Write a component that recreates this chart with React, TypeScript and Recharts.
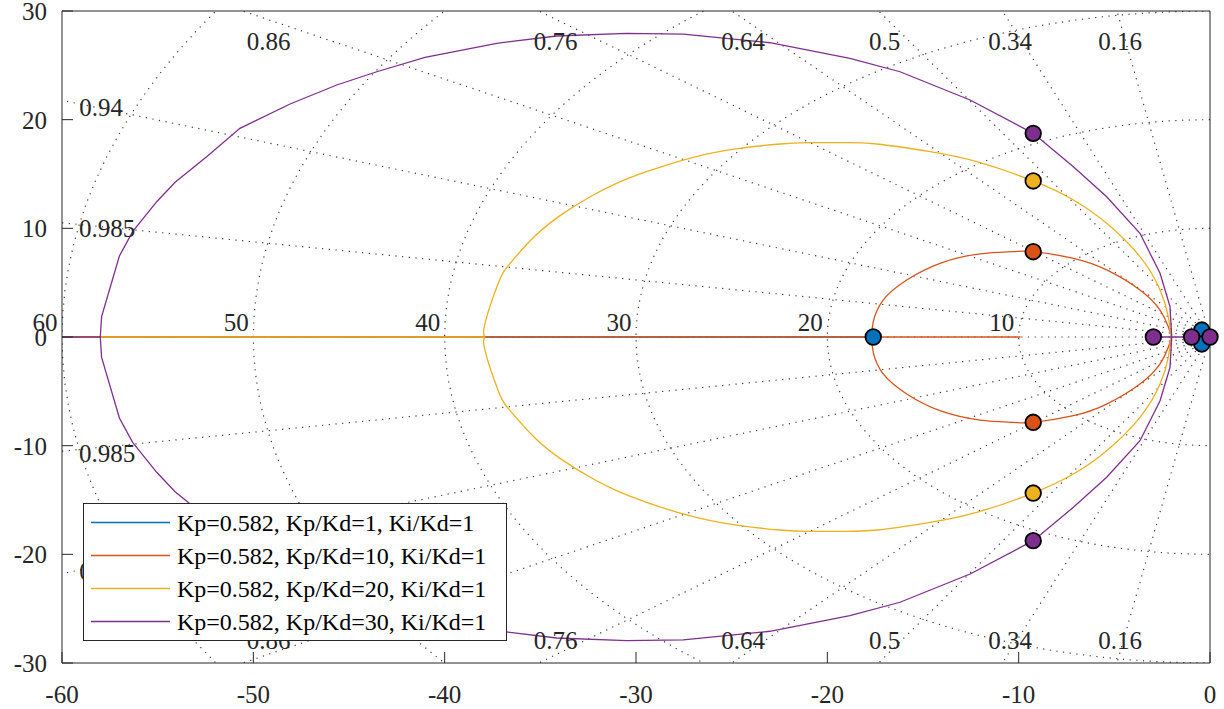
import React from 'react';
import { ComposedChart, Line, Scatter, XAxis, YAxis, ReferenceDot, Legend } from 'recharts';

type Pt = { x: number; y: number };

const xTicks = [-60, -50, -40, -30, -20, -10, 0];
const yTicks = [-30, -20, -10, 0, 10, 20, 30];

const seriesNames = [
  'Kp=0.582, Kp/Kd=1, Ki/Kd=1',
  'Kp=0.582, Kp/Kd=10, Ki/Kd=1',
  'Kp=0.582, Kp/Kd=20, Ki/Kd=1',
  'Kp=0.582, Kp/Kd=30, Ki/Kd=1',
];
const seriesColors = ['#0072BD', '#D95319', '#EDB120', '#7E2F8E'];

const orangeUpper: [number, number][] = [
  [-17.68, 0], [-17.6, 1.41], [-17.08, 3.4], [-15.85, 5.24], [-14.11, 6.78], [-12.02, 7.64],
  [-10.28, 7.85], [-9.24, 7.85], [-7.14, 7.24], [-5.4, 6.17], [-3.66, 4.33], [-2.61, 2.48],
  [-2.18, 0.95], [-2.0, 0],
];
const yellowUpper: [number, number][] = [
  [-37.89, 0], [-37.89, 1.26], [-37.2, 4.94], [-36.58, 6.78], [-35.28, 9.29], [-33.8, 11.38],
  [-32.32, 12.98], [-31.02, 14.14], [-29.45, 15.21], [-27.01, 16.54], [-24.57, 17.36],
  [-22.47, 17.76], [-21.08, 17.88], [-19.34, 17.88], [-17.42, 17.76], [-14.63, 17.05],
  [-12.19, 16.13], [-9.24, 14.36], [-7.14, 12.61], [-5.4, 10.46], [-3.66, 7.39], [-2.61, 4.33],
  [-2.18, 1.87], [-2.05, 0],
];
const purpleUpper: [number, number][] = [
  [-58.0, 0], [-57.93, 1.87], [-57.0, 7.45], [-56.31, 9.69], [-55.05, 12.45], [-54.09, 14.24],
  [-52.44, 16.59], [-50.7, 19.2], [-48.08, 21.44], [-45.64, 23.19], [-43.55, 24.41],
  [-41.03, 25.74], [-37.28, 27.03], [-34.15, 27.7], [-30.49, 27.95], [-27.53, 27.88],
  [-23.0, 27.08], [-18.82, 25.65], [-16.2, 24.41], [-12.54, 21.81], [-9.24, 18.74],
  [-7.14, 15.67], [-5.4, 12.91], [-3.66, 9.54], [-2.61, 5.86], [-2.09, 2.79], [-2.0, 0],
];

// real-axis parts of the locus
const blueReal: [number, number][] = [[-60, 0], [-17.6, 0]];
const orangeReal: [number, number][] = [[-60, 0], [-9.9, 0]];
const yellowReal: [number, number][] = [[-60, 0], [-37.89, 0]];
const purpleRealLeft: [number, number][] = [[-60, 0], [-58.0, 0]];
const purpleRealRight: [number, number][] = [[-2.96, 0], [-0.96, 0]];

// closed-loop poles at Kp=0.582
const blueMarks: [number, number][] = [[-17.6, 0], [-0.43, 0.64], [-0.43, -0.64]];
const orangeMarks: [number, number][] = [[-9.24, 7.85], [-9.24, -7.85]];
const yellowMarks: [number, number][] = [[-9.24, 14.36], [-9.24, -14.36]];
const purpleMarks: [number, number][] = [[-9.24, 18.74], [-9.24, -18.74], [-2.96, 0], [-0.96, 0], [0, 0]];

// s-plane grid
const zetas = [0.16, 0.34, 0.5, 0.64, 0.76, 0.86, 0.94, 0.985, 1];
const wns = [10, 20, 30, 40, 50, 60];

const dampingLabels = [
  { t: '0.86', x: -49.2, y: 27.24 }, { t: '0.76', x: -34.2, y: 27.24 }, { t: '0.64', x: -24.4, y: 27.24 },
  { t: '0.5', x: -17.0, y: 27.24 }, { t: '0.34', x: -10.45, y: 27.24 }, { t: '0.16', x: -4.7, y: 27.24 },
  { t: '0.86', x: -49.2, y: -27.88 }, { t: '0.76', x: -34.2, y: -27.88 }, { t: '0.64', x: -24.4, y: -27.88 },
  { t: '0.5', x: -17.0, y: -27.88 }, { t: '0.34', x: -10.45, y: -27.88 }, { t: '0.16', x: -4.7, y: -27.88 },
  { t: '0.94', x: -57.96, y: 21.12 }, { t: '0.985', x: -57.64, y: 10.0 },
  { t: '0.985', x: -57.64, y: -10.67 }, { t: '0.94', x: -57.96, y: -21.6 },
];

const pts = (a: [number, number][]): Pt[] => a.map(([x, y]) => ({ x, y }));
const mirror = (a: [number, number][]): Pt[] => a.map(([x, y]) => ({ x, y: -y }));

const rays: Pt[][] = [];
zetas.forEach((z) => {
  const s = Math.sqrt(1 - z * z);
  rays.push([{ x: 0, y: 0 }, { x: -100 * z, y: 100 * s }]);
  if (z < 1) rays.push([{ x: 0, y: 0 }, { x: -100 * z, y: -100 * s }]);
});
const circles: Pt[][] = wns.map((w) => {
  const c: Pt[] = [];
  for (let a = 90; a <= 270; a += 2) {
    const r = (a * Math.PI) / 180;
    c.push({ x: w * Math.cos(r), y: w * Math.sin(r) });
  }
  return c;
});

const FONT = 'Liberation Serif';
const AX = '#262626';
const gridStyle = { stroke: '#3a3a3a', strokeWidth: 1.2, strokeDasharray: '1.2 5.5' };

const marker = (color: string) => (p: any) => (
  <circle cx={p.cx} cy={p.cy} r={7.8} fill={color} stroke="#000" strokeWidth={1.8} />
);

const LegendBox = () => (
  <div
    style={{
      boxSizing: 'border-box', width: 424, height: 138, border: `1px solid ${AX}`,
      background: '#fff', paddingTop: 2,
    }}
  >
    {seriesNames.map((n, i) => (
      <div key={n} style={{ display: 'flex', alignItems: 'center', height: 33 }}>
        <svg width={86} height={33} style={{ flex: 'none' }}>
          <line x1={7} x2={86} y1={16.5} y2={16.5} stroke={seriesColors[i]} strokeWidth={1.3} />
        </svg>
        <span
          style={{
            marginLeft: 7, fontFamily: FONT, fontSize: 24, lineHeight: '33px', paddingTop: 2,
            color: '#000', whiteSpace: 'nowrap',
          }}
        >
          {n}
        </span>
      </div>
    ))}
  </div>
);

export default function App() {
  const tickStyle = { fontSize: 25, fill: AX, style: { fontFamily: FONT } };
  const line = (data: Pt[], color: string, key: string, w = 1.3, extra: any = {}) => (
    <Line
      key={key}
      data={data}
      dataKey="y"
      type="linear"
      stroke={color}
      strokeWidth={w}
      dot={false}
      activeDot={false}
      legendType="none"
      isAnimationActive={false}
      {...extra}
    />
  );
  const labelText = (cx: number, cy: number, t: string | number, anchor: 'middle' | 'end') => (
    <text x={cx} y={cy} dy="0.35em" textAnchor={anchor} fontSize={25} fill={AX} style={{ fontFamily: FONT }}>
      {t}
    </text>
  );

  return (
    <div style={{ position: 'absolute', left: 0, top: 0, background: '#fff', fontFamily: FONT }}>
      <ComposedChart width={1224} height={709} margin={{ top: 10, right: 13, bottom: 0, left: 0 }} style={{ fontFamily: FONT }}>
        <XAxis
          dataKey="x"
          type="number"
          domain={[-60, 0]}
          ticks={xTicks}
          interval={0}
          allowDataOverflow
          height={46}
          tickSize={-11}
          tickMargin={33}
          stroke={AX}
          tick={tickStyle}
        />
        <YAxis
          dataKey="y"
          type="number"
          domain={[-30, 30]}
          ticks={yTicks}
          interval={0}
          allowDataOverflow
          width={62}
          tickSize={-11}
          tickMargin={26}
          stroke={AX}
          tick={tickStyle}
        />
        <XAxis
          xAxisId="top"
          orientation="top"
          type="number"
          domain={[-60, 0]}
          ticks={xTicks}
          interval={0}
          height={1}
          tickSize={-11}
          tick={false}
          stroke={AX}
        />
        <YAxis
          yAxisId="right"
          orientation="right"
          type="number"
          domain={[-30, 30]}
          ticks={yTicks}
          interval={0}
          width={1}
          tickSize={-11}
          tick={false}
          stroke={AX}
        />
        <XAxis xAxisId="m" dataKey="x" type="number" domain={[-60, 0]} hide />
        <YAxis yAxisId="m" dataKey="y" type="number" domain={[-30, 30]} hide />

        {rays.map((r, i) => line(r, gridStyle.stroke, `ray${i}`, gridStyle.strokeWidth, { strokeDasharray: gridStyle.strokeDasharray }))}
        {circles.map((c, i) => line(c, gridStyle.stroke, `circ${i}`, gridStyle.strokeWidth, { strokeDasharray: gridStyle.strokeDasharray }))}

        {line(pts(blueReal), seriesColors[0], 'bR')}
        {line(pts(orangeReal), seriesColors[1], 'oR')}
        {line(pts(orangeUpper), seriesColors[1], 'oU', 1.3, { type: 'natural' })}
        {line(mirror(orangeUpper), seriesColors[1], 'oL', 1.3, { type: 'natural' })}
        {line(pts(yellowReal), seriesColors[2], 'yR')}
        {line(pts(yellowUpper), seriesColors[2], 'yU', 1.3, { type: 'natural' })}
        {line(mirror(yellowUpper), seriesColors[2], 'yL', 1.3, { type: 'natural' })}
        {line(pts(purpleRealLeft), seriesColors[3], 'pR1')}
        {line(pts(purpleRealRight), seriesColors[3], 'pR2')}
        {line(pts(purpleUpper), seriesColors[3], 'pU')}
        {line(mirror(purpleUpper), seriesColors[3], 'pL')}

        {dampingLabels.map((l, i) => (
          <ReferenceDot
            key={`dl${i}`}
            x={l.x}
            y={l.y}
            r={0}
            ifOverflow="visible"
            shape={(p: any) => labelText(p.cx, p.cy, l.t, 'middle')}
          />
        ))}
        {wns.map((w) => (
          <ReferenceDot
            key={`wl${w}`}
            x={-w}
            y={1.33}
            r={0}
            ifOverflow="visible"
            shape={(p: any) => labelText(p.cx - 4.5, p.cy, w, 'end')}
          />
        ))}

        <Scatter xAxisId="m" yAxisId="m" data={pts(blueMarks)} shape={marker(seriesColors[0])} legendType="none" isAnimationActive={false} />
        <Scatter xAxisId="m" yAxisId="m" data={pts(orangeMarks)} shape={marker(seriesColors[1])} legendType="none" isAnimationActive={false} />
        <Scatter xAxisId="m" yAxisId="m" data={pts(yellowMarks)} shape={marker(seriesColors[2])} legendType="none" isAnimationActive={false} />
        <Scatter xAxisId="m" yAxisId="m" data={pts(purpleMarks)} shape={marker(seriesColors[3])} legendType="none" isAnimationActive={false} />

        <Legend
          layout="vertical"
          align="center"
          verticalAlign="middle"
          content={() => <LegendBox />}
          wrapperStyle={{ left: 83, top: 503, width: 424, height: 138 }}
        />
      </ComposedChart>
    </div>
  );
}
